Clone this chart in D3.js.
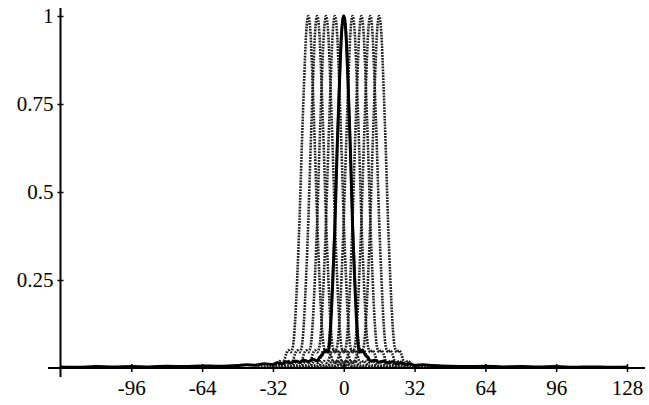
<!DOCTYPE html>
<html>
<head>
<meta charset="utf-8">
<script src="https://cdn.jsdelivr.net/npm/d3@7"></script>
<style>
  body { margin: 0; background: #fff; }
  svg text { font-family: "Liberation Serif", "DejaVu Serif", serif; font-size: 21px; fill: #000; }
</style>
</head>
<body>
<svg class="chart"></svg>
<script>

// shape of one peak (offset from centre -> height)
var peakOffsets = [-24, -22, -20, -18, -16, -15, -14, -13, -12, -11, -10, -9, -8, -7, -6, -5, -4, -3, -2, -1,
                   0, 1, 2, 3, 4, 5, 6, 7, 8, 9, 10, 11, 12, 13, 14, 15, 16, 18, 20, 22, 24]
var peakValues = [0, 0.003, 0.004, 0.008, 0.006, 0.008, 0.015, 0.02, 0.015, 0.02, 0.04, 0.05, 0.045, 0.06, 0.13, 0.26, 0.42, 0.62, 0.8, 0.95,
                  1, 0.95, 0.8, 0.62, 0.42, 0.26, 0.13, 0.06, 0.045, 0.05, 0.04, 0.02, 0.015, 0.02, 0.015, 0.008, 0.006, 0.008, 0.004, 0.003, 0]

// grey peaks, centres
var greyCentres = [-16, -12, -8, -4, 0, 4, 8, 12, 16]

// black curve
var blackX = [-128, -120, -112, -104, -96, -88, -80, -72, -64, -56, -48, -44, -40, -36, -32, -30, -28, -26, -24, -22, -20, -18, -16, -14, -12, -11, -10, -9, -8, -7, -6, -5, -4, -3, -2, -1,
              0, 1, 2, 3, 4, 5, 6, 7, 8, 9, 10, 11, 12, 14, 16, 18, 20, 22, 24, 26, 28, 30, 32, 36, 40, 44, 48, 56, 64, 72, 80, 88, 96, 104, 112, 120, 128]
var blackY = [0.003, 0.002, 0.004, 0.003, 0.004, 0.003, 0.005, 0.004, 0.006, 0.005, 0.007, 0.009, 0.008, 0.012, 0.01, 0.015, 0.012, 0.018, 0.014, 0.02, 0.016, 0.022, 0.018, 0.025, 0.02, 0.03, 0.035, 0.045, 0.05, 0.045, 0.11, 0.24, 0.4, 0.62, 0.8, 0.95,
              1, 0.95, 0.8, 0.62, 0.4, 0.24, 0.11, 0.045, 0.05, 0.045, 0.035, 0.03, 0.02, 0.022, 0.016, 0.02, 0.014, 0.018, 0.012, 0.015, 0.01, 0.012, 0.008, 0.009, 0.007, 0.006, 0.005, 0.004, 0.005, 0.003, 0.004, 0.003, 0.004, 0.002, 0.003, 0.002, 0.003]

var xTicks = [-96, -64, -32, 0, 32, 64, 96, 128]
var yTicks = [0.25, 0.5, 0.75, 1]

var w = 649, h = 405

var svg = d3.select('.chart')
    .attr('width', w)
    .attr('height', h)

var x = d3.scaleLinear().domain([-128, 128]).range([60.5, 627])
var y = d3.scaleLinear().domain([0, 1]).range([368, 16])

var line = d3.line()
    .x(function(d) { return x(d[0]) })
    .y(function(d) { return y(d[1]) })
    .curve(d3.curveMonotoneX)

// grey peaks
svg.selectAll('.grey')
    .data(greyCentres)
  .enter().append('path')
    .attr('class', 'grey')
    .attr('fill', 'none')
    .attr('stroke', '#1e1e1e')
    .attr('stroke-width', 2.6)
    .attr('stroke-dasharray', '1.8,1.1')
    .attr('d', function(c) {
      return line(peakOffsets.map(function(o, i) { return [c + o, peakValues[i]] }))
    })

// black peak
svg.append('path')
    .attr('fill', 'none')
    .attr('stroke', '#000')
    .attr('stroke-width', 3)
    .attr('stroke-linejoin', 'round')
    .attr('d', line(blackX.map(function(v, i) { return [v, blackY[i]] })))

// axes lines
svg.append('line')
    .attr('x1', 48).attr('x2', 645)
    .attr('y1', y(0)).attr('y2', y(0))
    .attr('stroke', '#000').attr('stroke-width', 2)

svg.append('line')
    .attr('x1', x(-128)).attr('x2', x(-128))
    .attr('y1', 8).attr('y2', 377)
    .attr('stroke', '#000').attr('stroke-width', 2)

var xAxis = svg.append('g')
    .attr('transform', 'translate(0,' + y(0) + ')')
    .call(d3.axisBottom(x).tickValues(xTicks).tickFormat(function(d) { return String(d) }))

var yAxis = svg.append('g')
    .attr('transform', 'translate(' + x(-128) + ',0)')
    .call(d3.axisLeft(y).tickValues(yTicks).tickFormat(function(d) { return String(d) }))

xAxis.select('.domain').remove()
yAxis.select('.domain').remove()

xAxis.selectAll('.tick line')
    .attr('y1', -4).attr('y2', 4)
    .attr('stroke', '#000').attr('stroke-width', 1.5)
xAxis.selectAll('.tick text')
    .attr('y', 27).attr('dy', 0)
    .style('font-size', '21px')
    .style('font-family', '"Liberation Serif", serif')

yAxis.selectAll('.tick line')
    .attr('x1', -3).attr('x2', 3)
    .attr('stroke', '#000').attr('stroke-width', 1.5)
yAxis.selectAll('.tick text')
    .attr('x', -7).attr('dy', '0.33em')
    .style('font-size', '21px')
    .style('font-family', '"Liberation Serif", serif')

</script>
</body>
</html>
